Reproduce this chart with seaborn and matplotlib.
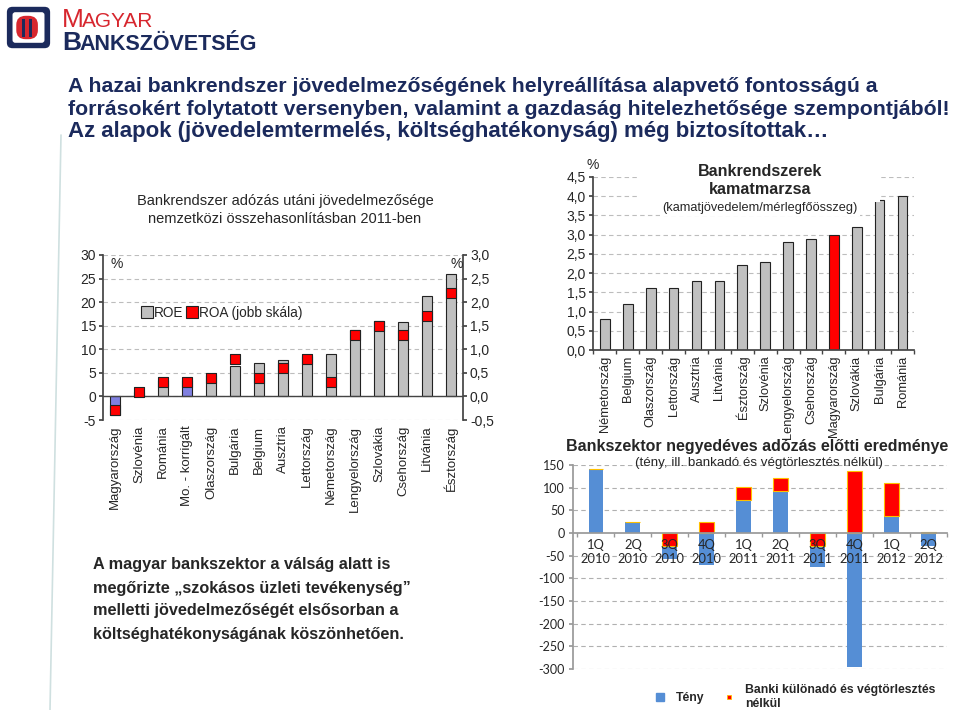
import numpy as np
import pandas as pd
import matplotlib
matplotlib.use('Agg')
import matplotlib.pyplot as plt
import seaborn as sns
from matplotlib.patches import Rectangle, FancyBboxPatch
from matplotlib.lines import Line2D

# ==============================================================================
# ADATOK
# ==============================================================================
# 1. ROE / ROA 2011
orszagok_roe = ['Magyarország', 'Szlovénia', 'Románia', 'Mo. - korrigált', 'Olaszország',
                'Bulgária', 'Belgium', 'Ausztria', 'Lettország', 'Németország',
                'Lengyelország', 'Szlovákia', 'Csehország', 'Litvánia', 'Észtország']
roe = [-4.0, 1.0, 3.5, 3.5, 4.5, 6.4, 7.0, 7.8, 8.5, 9.1, 14.0, 16.0, 15.8, 21.3, 25.9]
roa = [-0.29, 0.1, 0.3, 0.3, 0.4, 0.8, 0.4, 0.6, 0.8, 0.3, 1.3, 1.5, 1.3, 1.7, 2.2]
kiemelt_roe = ['Magyarország', 'Mo. - korrigált']

# 2. kamatmarzs
orszagok_marzs = ['Németország', 'Belgium', 'Olaszország', 'Lettország', 'Ausztria', 'Litvánia',
                  'Észtország', 'Szlovénia', 'Lengyelország', 'Csehország', 'Magyarország',
                  'Szlovákia', 'Bulgária', 'Románia']
marzs = [0.8, 1.2, 1.6, 1.6, 1.8, 1.8, 2.2, 2.3, 2.8, 2.9, 3.0, 3.2, 3.9, 4.0]

# 3. negyedéves adózás előtti eredmény
negyedevek = ['1Q\n2010', '2Q\n2010', '3Q\n2010', '4Q\n2010', '1Q\n2011',
              '2Q\n2011', '3Q\n2011', '4Q\n2011', '1Q\n2012', '2Q\n2012']
teny = [142, 24, -58, -70, 72, 92, -74, -296, 37, -28]
kulonado = [0, 0, -29, 25, 30, 30, -29, 137, 73, 2]

NAVY = '#1b2a5c'
PIROS = '#ff0000'
SZURKE = '#c0c0c0'
KEK = '#558ed5'
RACS = '#bdbdbd'

sns.set_theme(style='white')
plt.rcParams['font.family'] = ['Liberation Sans', 'DejaVu Sans']
plt.rcParams['axes.unicode_minus'] = False

fig = plt.figure(figsize=(9.6, 7.1), dpi=100)


def px_axes(l, t, r, b):
    return fig.add_axes([l / 960, 1 - b / 710, (r - l) / 960, (b - t) / 710])


def fx(x):
    return x / 960


def fy(y):
    return 1 - y / 710


def vesszo(v):
    return f'{v:.1f}'.replace('.', ',')


# ==============================================================================
# FEJLÉC
# ==============================================================================
logo = px_axes(5, 5, 52, 50)
logo.set_xlim(0, 1)
logo.set_ylim(0, 1)
logo.axis('off')
logo.add_patch(FancyBboxPatch((0.04, 0.04), 0.92, 0.92, boxstyle='round,pad=0,rounding_size=0.12',
                              fc=NAVY, ec='none'))
logo.add_patch(FancyBboxPatch((0.16, 0.16), 0.68, 0.68, boxstyle='round,pad=0,rounding_size=0.06',
                              fc='white', ec='none'))
logo.add_patch(FancyBboxPatch((0.24, 0.24), 0.46, 0.52, boxstyle='round,pad=0,rounding_size=0.2',
                              fc='#d7262e', ec='none'))
for xs in [0.36, 0.5]:
    logo.add_patch(Rectangle((xs, 0.3), 0.07, 0.4, fc=NAVY, ec='none'))

fig.text(fx(62), fy(27), 'M', fontsize=19, color='#d7262e', va='baseline')
fig.text(fx(82), fy(27), 'AGYAR', fontsize=15, color='#d7262e', va='baseline')
fig.text(fx(62), fy(50), 'B', fontsize=19, color=NAVY, weight='bold', va='baseline')
fig.text(fx(79), fy(50), 'ANKSZÖVETSÉG', fontsize=15.5, color=NAVY, weight='bold', va='baseline')

cim_sorok = ['A hazai bankrendszer jövedelmezőségének helyreállítása alapvető fontosságú a',
             'forrásokért folytatott versenyben, valamint a gazdaság hitelezhetősége szempontjából!',
             'Az alapok (jövedelemtermelés, költséghatékonyság) még biztosítottak…']
cim_meret = [15.3, 15.3, 16.0]
for i, sor in enumerate(cim_sorok):
    fig.text(fx(68), fy(87 + i * 22.5), sor, fontsize=cim_meret[i], weight='bold', color=NAVY,
             va='center')

fig.add_artist(Line2D([fx(61), fx(50)], [fy(135), fy(710)], transform=fig.transFigure,
                      color='#cfe0e0', lw=1.2))

# ==============================================================================
# 1. ROE / ROA
# ==============================================================================
ax1 = px_axes(103, 255, 463, 420)
df1 = pd.DataFrame({'orszag': orszagok_roe, 'roe': roe})
paletta1 = {o: ('#8080e0' if o in kiemelt_roe else SZURKE) for o in orszagok_roe}
sns.barplot(data=df1, x='orszag', y='roe', hue='orszag', palette=paletta1, legend=False,
            width=0.42, edgecolor='#222222', linewidth=0.8, saturation=1, ax=ax1)
ax1.set_xlim(-0.5, 14.5)
ax1.set_ylim(-5, 30)
ax1.set_yticks(range(-5, 31, 5))
for v in range(-5, 31, 5):
    ax1.axhline(v, color=RACS, lw=0.8, ls=(0, (4, 3)), zorder=0)
ax1.axhline(0, color='#444444', lw=1.0, zorder=1.5)
ax1.set_xlabel('')
ax1.set_ylabel('')
for s in ['top', 'bottom', 'right']:
    ax1.spines[s].set_visible(False)
ax1.spines['left'].set_color('#444444')
ax1.tick_params(axis='y', left=True, length=3, direction='out', labelsize=10, pad=2, color='#444444')
ax1.tick_params(axis='x', length=0, labelsize=9.5, pad=4, rotation=90)
ax1.text(0.02, 0.985, '%', transform=ax1.transAxes, fontsize=10, va='top', ha='left')

ax1b = ax1.twinx()
ax1b.set_ylim(-0.5, 3.0)
jobb_tick = np.arange(-0.5, 3.01, 0.5)
ax1b.set_yticks(jobb_tick)
ax1b.set_yticklabels([vesszo(v) for v in jobb_tick])
for s in ['top', 'bottom', 'left']:
    ax1b.spines[s].set_visible(False)
ax1b.spines['right'].set_color('#444444')
ax1b.tick_params(axis='y', right=True, length=3, direction='out', labelsize=10, pad=2, color='#444444')
sns.scatterplot(x=np.arange(len(roa)), y=roa, marker='s', s=52, color=PIROS, edgecolor='#222222',
                linewidth=0.8, ax=ax1b, zorder=3, legend=False)
ax1b.set_ylabel('')
ax1b.text(1.0, 0.985, '%', transform=ax1b.transAxes, fontsize=10, va='top', ha='right')

fig.text(fx(285), fy(201), 'Bankrendszer adózás utáni jövedelmezősége', fontsize=10.5,
         ha='center', va='center')
fig.text(fx(285), fy(219), 'nemzetközi összehasonlításban 2011-ben', fontsize=10.5,
         ha='center', va='center')

jel1 = [Line2D([], [], marker='s', ls='none', ms=8, mfc=SZURKE, mec='#222222', mew=0.8),
        Line2D([], [], marker='s', ls='none', ms=8, mfc=PIROS, mec='#222222', mew=0.8)]
fig.legend(jel1, ['ROE', 'ROA (jobb skála)'], loc='center left', bbox_to_anchor=(fx(142), fy(313)),
           ncol=2, frameon=False, fontsize=9.8, handlelength=0.8, handletextpad=0.1,
           columnspacing=0.2, borderaxespad=0, borderpad=0)

# ==============================================================================
# 2. KAMATMARZS
# ==============================================================================
ax2 = px_axes(593, 177, 914, 350)
df2 = pd.DataFrame({'orszag': orszagok_marzs, 'marzs': marzs})
paletta2 = {o: (PIROS if o == 'Magyarország' else SZURKE) for o in orszagok_marzs}
sns.barplot(data=df2, x='orszag', y='marzs', hue='orszag', palette=paletta2, legend=False,
            width=0.42, edgecolor='#222222', linewidth=0.8, saturation=1, ax=ax2)
ax2.set_xlim(-0.52, 13.49)
ax2.set_ylim(0, 4.5)
bal_tick = np.arange(0, 4.51, 0.5)
ax2.set_yticks(bal_tick)
ax2.set_yticklabels([vesszo(v) for v in bal_tick])
for v in bal_tick[1:]:
    ax2.axhline(v, color=RACS, lw=0.8, ls=(0, (4, 3)), zorder=0)
ax2.set_xlabel('')
ax2.set_ylabel('')
for s in ['top', 'right']:
    ax2.spines[s].set_visible(False)
for s in ['left', 'bottom']:
    ax2.spines[s].set_color('#444444')
ax2.tick_params(axis='y', left=True, length=3, direction='out', labelsize=10, pad=2, color='#444444')
ax2.tick_params(axis='x', length=0, labelsize=9.3, pad=4, rotation=90)
ax2.set_xticks(np.arange(-0.5, 13.6, 1.0), minor=True)
ax2.tick_params(axis='x', which='minor', bottom=True, length=3, direction='out', color='#444444')
ax2.text(-0.02, 1.03, '%', transform=ax2.transAxes, fontsize=10, va='bottom', ha='left')

fig.add_artist(Rectangle((fx(640), fy(202)), fx(240), 32 / 710, transform=fig.transFigure,
                         fc='white', ec='none', zorder=1))
fig.text(fx(760), fy(172), 'Bankrendszerek', fontsize=11.6, weight='bold', ha='center', va='center')
fig.text(fx(760), fy(190), 'kamatmarzsa', fontsize=11.6, weight='bold', ha='center', va='center')
fig.text(fx(760), fy(208), '(kamatjövedelem/mérlegfőösszeg)', fontsize=9.2, ha='center', va='center',
         bbox=dict(fc='white', ec='none', pad=1.5))

# ==============================================================================
# 3. NEGYEDÉVES EREDMÉNY
# ==============================================================================
ax3 = px_axes(573, 465, 947, 669)
teny_arr = np.array(teny)
sns.barplot(x=negyedevek, y=teny, color=KEK, saturation=1, width=0.4, ax=ax3, linewidth=0)
ax3.bar(np.arange(len(kulonado)), kulonado, bottom=np.where(teny_arr > 0, teny_arr, 0),
        width=0.4, color=PIROS, edgecolor='#ffc000', linewidth=0.8)
ax3.set_xlim(-0.62, 9.43)
ax3.set_ylim(-300, 150)
ax3.set_yticks(range(-300, 151, 50))
ax3.set_axisbelow(False)
for v in range(-300, 151, 50):
    if v != 0:
        ax3.axhline(v, color='#b0b0b0', lw=0.8, ls=(0, (4, 3)), zorder=0)
ax3.set_xlabel('')
ax3.set_ylabel('')
for s in ['top', 'right']:
    ax3.spines[s].set_visible(False)
ax3.spines['bottom'].set_position(('data', 0))
ax3.spines['bottom'].set_color('#999999')
ax3.spines['left'].set_color('#999999')
ax3.tick_params(axis='y', left=True, length=3, direction='out', labelsize=9, pad=3,
                color='#999999')
ax3.tick_params(axis='x', length=0, labelsize=9.3, pad=4)
for t in ax3.get_xticklabels() + ax3.get_yticklabels():
    t.set_fontfamily('Lato')
ax3.set_xticks(np.arange(-0.5, 9.6, 1.0), minor=True)
ax3.tick_params(axis='x', which='minor', bottom=True, length=3, direction='out', color='#999999')

fig.text(fx(757), fy(446), 'Bankszektor negyedéves adózás előtti eredménye', fontsize=11.5,
         weight='bold', ha='center', va='center')
fig.text(fx(759), fy(463), '(tény, ill. bankadó és végtörlesztés nélkül)', fontsize=9.6,
         ha='center', va='center')

jel3 = [Line2D([], [], marker='s', ls='none', ms=6, mfc=KEK, mec=KEK),
        Line2D([], [], marker='s', ls='none', ms=3.5, mfc=PIROS, mec='#ffc000', mew=0.6)]
fig.legend(jel3, ['Tény', 'Banki különadó és végtörlesztés\nnélkül'], loc='upper left',
           bbox_to_anchor=(fx(655), fy(684)), ncol=2, frameon=False,
           prop=dict(size=8.8, weight='bold'), handlelength=0.8, handletextpad=0.9,
           columnspacing=1.6, borderaxespad=0, borderpad=0)

# ==============================================================================
# SZÖVEG
# ==============================================================================
szoveg = ['A magyar bankszektor a válság alatt is',
          'megőrizte „szokásos üzleti tevékenység”',
          'melletti jövedelmezőségét elsősorban a',
          'költséghatékonyságának köszönhetően.']
for i, sor in enumerate(szoveg):
    fig.text(fx(93), fy(565 + i * 23), sor, fontsize=11.7, weight='bold', va='center')

fig.savefig('out.png', dpi=100)
